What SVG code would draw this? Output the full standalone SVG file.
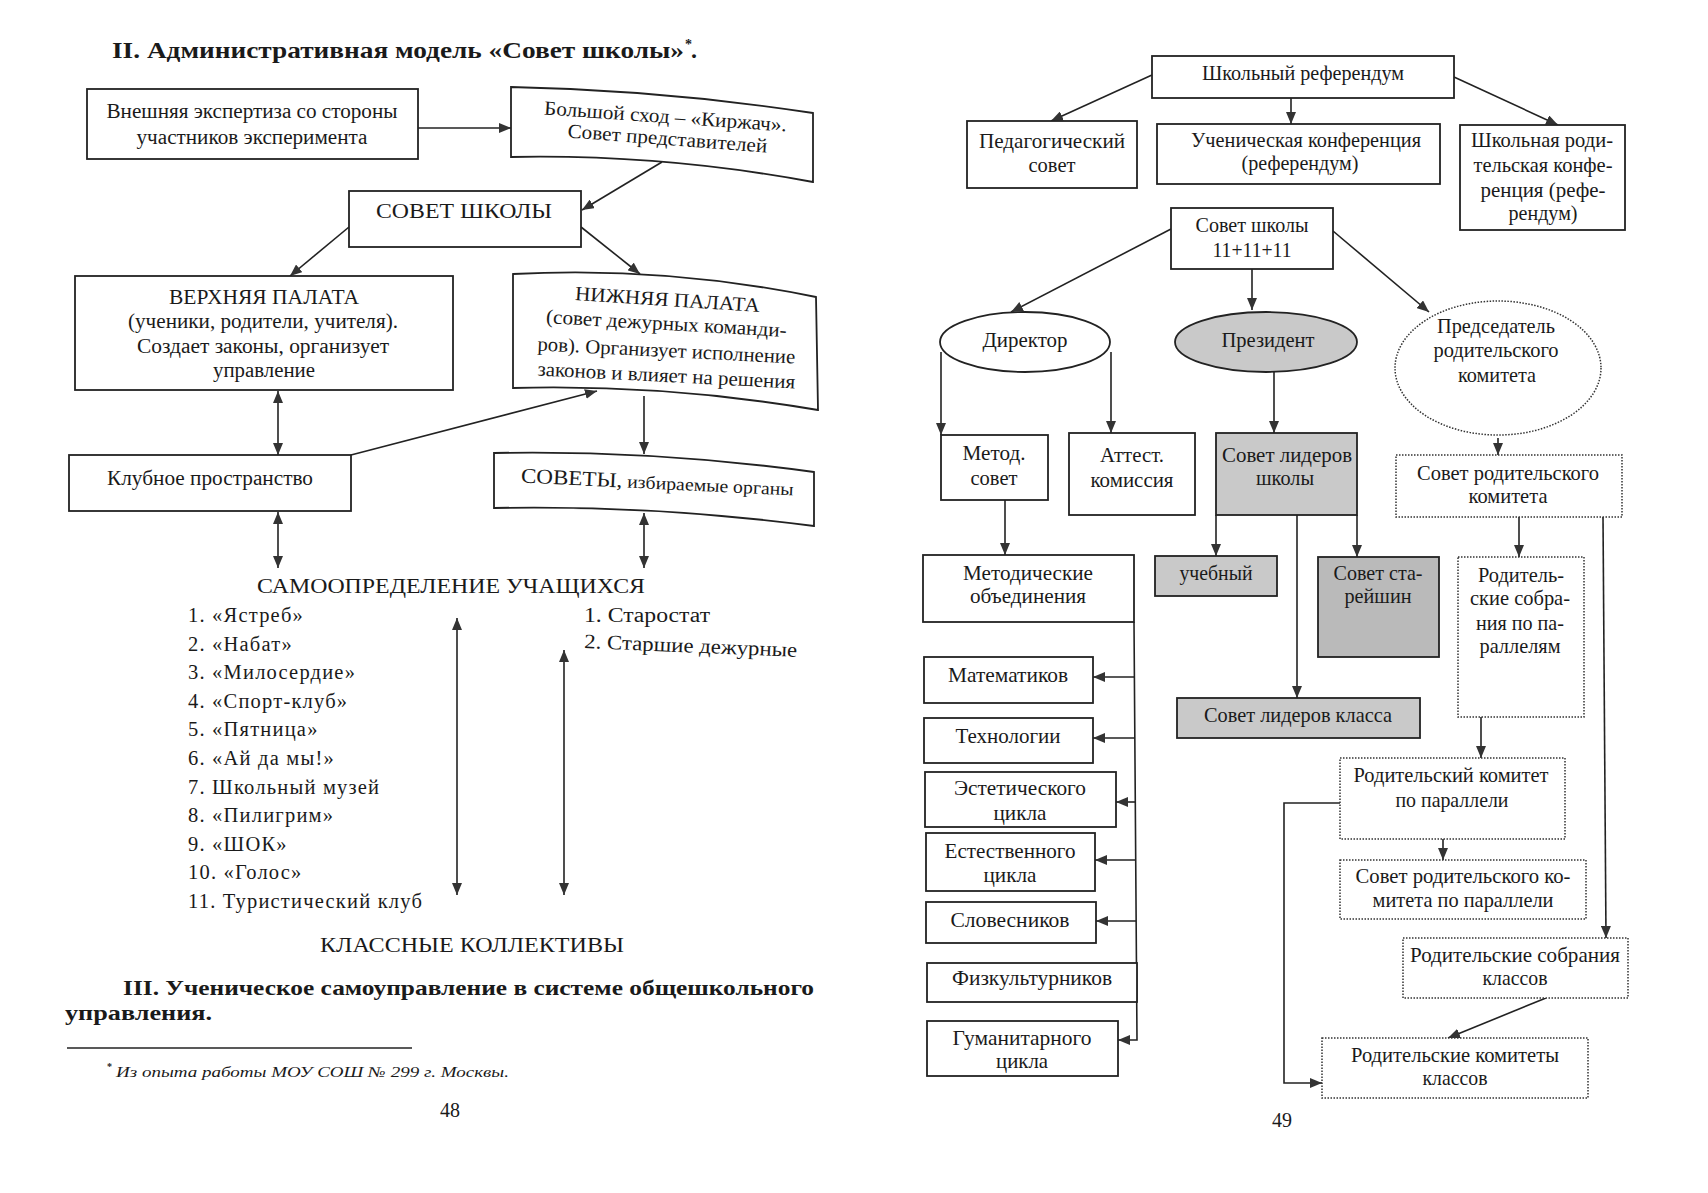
<svg xmlns="http://www.w3.org/2000/svg" width="1708" height="1193" viewBox="0 0 1708 1193">
<defs>
<marker id="ah" viewBox="0 0 12 10" refX="12" refY="5" markerWidth="12" markerHeight="10" markerUnits="userSpaceOnUse" orient="auto-start-reverse"><path d="M0,0 L12,5 L0,10 z" fill="#333"/></marker>
</defs>
<style>
text{font-family:"Liberation Serif","Times New Roman",serif;fill:#1a1a1a}
.t{font-size:20px;text-anchor:middle}
.r{font-size:21px;text-anchor:middle}
.l{font-size:20.5px;letter-spacing:1.2px}
.b{font-weight:bold}
.box{fill:#fff;stroke:#222;stroke-width:1.8}
.gray{fill:#c9c9c9;stroke:#222;stroke-width:1.8}
.dark{fill:#bababa;stroke:#222;stroke-width:1.8}
.dot{fill:#fff;stroke:#333;stroke-width:1.5;stroke-dasharray:1.5 1.5}
.c{fill:none;stroke:#222;stroke-width:1.6}
.a{marker-end:url(#ah)}
.d{marker-start:url(#ah);marker-end:url(#ah)}
</style>
<rect x="0" y="0" width="1708" height="1193" fill="#fff"/>

<!-- LEFT PAGE -->
<g id="title">
<text class="b" x="112" y="58" font-size="24" textLength="572" lengthAdjust="spacingAndGlyphs">II. Административная модель «Совет школы»</text>
<text class="b" x="685" y="49" font-size="14">*</text>
<text class="b" x="691" y="58" font-size="24">.</text>
</g>

<g id="connectors-left">
<line class="c a" x1="418" y1="128" x2="511" y2="128"/>
<line class="c a" x1="662" y1="162" x2="582" y2="210"/>
<line class="c a" x1="349" y1="227" x2="290" y2="276"/>
<line class="c a" x1="581" y1="227" x2="640" y2="274"/>
<line class="c d" x1="278" y1="391" x2="278" y2="455"/>
<line class="c a" x1="351" y1="455" x2="597" y2="391"/>
<line class="c a" x1="644" y1="396" x2="644" y2="454"/>
<line class="c d" x1="278" y1="512" x2="278" y2="568"/>
<line class="c d" x1="644" y1="513" x2="644" y2="568"/>
<line class="c d" x1="457" y1="618" x2="457" y2="895"/>
<line class="c d" x1="564" y1="650" x2="564" y2="895"/>
</g>

<g id="vneshnyaya">
<rect class="box" x="87" y="89" width="331" height="70"/>
<text class="t" x="252" y="118" textLength="291" lengthAdjust="spacingAndGlyphs">Внешняя экспертиза со стороны</text>
<text class="t" x="252" y="144" textLength="231" lengthAdjust="spacingAndGlyphs">участников эксперимента</text>
</g>

<g id="bolshoy">
<path class="box" d="M511,87 Q662,90 813,113 L813,182 Q662,154 511,157 Z"/>
<text class="t" x="665" y="123" transform="rotate(4 665 123)" textLength="243" lengthAdjust="spacingAndGlyphs">Большой сход – «Киржач».</text>
<text class="t" x="667" y="145" transform="rotate(4.3 667 145)" textLength="200" lengthAdjust="spacingAndGlyphs">Совет представителей</text>
</g>

<g id="sovet-shkoly">
<rect class="box" x="349" y="191" width="232" height="56"/>
<text class="t" x="464" y="218" font-size="22" textLength="176" lengthAdjust="spacingAndGlyphs">СОВЕТ ШКОЛЫ</text>
</g>

<g id="verkhnyaya">
<rect class="box" x="75" y="276" width="378" height="114"/>
<text class="t" x="264" y="304" textLength="190" lengthAdjust="spacingAndGlyphs">ВЕРХНЯЯ ПАЛАТА</text>
<text class="t" x="263" y="328" textLength="270" lengthAdjust="spacingAndGlyphs">(ученики, родители, учителя).</text>
<text class="t" x="263" y="353" textLength="252" lengthAdjust="spacingAndGlyphs">Создает законы, организует</text>
<text class="t" x="264" y="377" textLength="102" lengthAdjust="spacingAndGlyphs">управление</text>
</g>

<g id="nizhnyaya">
<path class="box" d="M513,274 Q665,266 816,297 L818,410 Q665,384 513,388 Z"/>
<text class="t" x="667" y="306" transform="rotate(3.7 667 306)" textLength="185" lengthAdjust="spacingAndGlyphs">НИЖНЯЯ ПАЛАТА</text>
<text class="t" x="666" y="330" transform="rotate(3.3 666 330)" textLength="241" lengthAdjust="spacingAndGlyphs">(совет дежурных команди-</text>
<text class="t" x="666" y="357" transform="rotate(2.9 666 357)" textLength="258" lengthAdjust="spacingAndGlyphs">ров). Организует исполнение</text>
<text class="t" x="666" y="382" transform="rotate(2.9 666 382)" textLength="258" lengthAdjust="spacingAndGlyphs">законов и влияет на решения</text>
</g>

<g id="klubnoe">
<rect class="box" x="69" y="455" width="282" height="56"/>
<text class="t" x="210" y="485" textLength="206" lengthAdjust="spacingAndGlyphs">Клубное пространство</text>
</g>

<g id="sovety">
<path class="box" d="M494,453 Q654,450 814,472 L814,526 Q654,505 494,508 Z"/>
<text class="t" x="657" y="489" transform="rotate(2.7 657 489)" textLength="273" lengthAdjust="spacingAndGlyphs"><tspan font-size="21">СОВЕТЫ,</tspan><tspan font-size="18"> избираемые органы</tspan></text>
</g>

<g id="samoopredelenie">
<text x="257" y="593" font-size="21" textLength="388" lengthAdjust="spacingAndGlyphs">САМООПРЕДЕЛЕНИЕ УЧАЩИХСЯ</text>
<text class="l" x="188" y="622">1. «Ястреб»</text>
<text class="l" x="188" y="650.6">2. «Набат»</text>
<text class="l" x="188" y="679.2">3. «Милосердие»</text>
<text class="l" x="188" y="707.8">4. «Спорт-клуб»</text>
<text class="l" x="188" y="736.4">5. «Пятница»</text>
<text class="l" x="188" y="765">6. «Ай да мы!»</text>
<text class="l" x="188" y="793.6">7. Школьный музей</text>
<text class="l" x="188" y="822.2">8. «Пилигрим»</text>
<text class="l" x="188" y="850.8">9. «ШОК»</text>
<text class="l" x="188" y="879.4">10. «Голос»</text>
<text class="l" x="188" y="908">11. Туристический клуб</text>
<text x="584" y="622" font-size="20.5" textLength="126" lengthAdjust="spacingAndGlyphs">1. Старостат</text>
<text x="584" y="648" font-size="20.5" transform="rotate(2.4 584 648)" textLength="213" lengthAdjust="spacingAndGlyphs">2. Старшие дежурные</text>
<text x="320" y="952" font-size="20.5" textLength="304" lengthAdjust="spacingAndGlyphs">КЛАССНЫЕ КОЛЛЕКТИВЫ</text>
</g>

<g id="section3">
<text class="b" x="123" y="995" font-size="21" textLength="691" lengthAdjust="spacingAndGlyphs">III. Ученическое самоуправление в системе общешкольного</text>
<text class="b" x="65" y="1020" font-size="21" textLength="147" lengthAdjust="spacingAndGlyphs">управления.</text>
<line x1="67" y1="1048" x2="412" y2="1048" stroke="#222" stroke-width="1.5"/>
<text x="107" y="1070" font-size="10" font-weight="bold">*</text>
<text x="116" y="1077" font-size="15" font-style="italic" textLength="393" lengthAdjust="spacingAndGlyphs">Из опыта работы МОУ СОШ № 299 г. Москвы.</text>
<text x="440" y="1117" font-size="20">48</text>
</g>

<!-- RIGHT PAGE -->
<g id="connectors-right">
<line class="c a" x1="1152" y1="75" x2="1051" y2="121"/>
<line class="c a" x1="1291" y1="98" x2="1291" y2="124"/>
<line class="c a" x1="1454" y1="77" x2="1558" y2="125"/>
<line class="c a" x1="1171" y1="229" x2="1011" y2="312"/>
<line class="c a" x1="1252" y1="269" x2="1252" y2="310"/>
<line class="c a" x1="1333" y1="231" x2="1429" y2="312"/>
<line class="c a" x1="941" y1="352" x2="941" y2="435"/>
<line class="c a" x1="1111" y1="352" x2="1111" y2="433"/>
<line class="c a" x1="1274" y1="372" x2="1274" y2="433"/>
<line class="c a" x1="1005" y1="500" x2="1005" y2="555"/>
<line class="c a" x1="1216" y1="515" x2="1216" y2="556"/>
<line class="c a" x1="1357" y1="515" x2="1357" y2="557"/>
<line class="c a" x1="1297" y1="515" x2="1297" y2="698"/>
<line class="c a" x1="1498" y1="438" x2="1498" y2="455"/>
<line class="c a" x1="1519" y1="517" x2="1519" y2="557"/>
<line class="c a" x1="1603" y1="517" x2="1606" y2="938"/>
<line class="c a" x1="1481" y1="717" x2="1481" y2="758"/>
<line class="c a" x1="1443" y1="839" x2="1443" y2="860"/>
<line class="c a" x1="1546" y1="998" x2="1448" y2="1038"/>
<polyline class="c a" points="1340,803 1284,803 1284,1083 1322,1083"/>
<polyline class="c a" points="1134,622 1137,1040 1118,1040"/>
<line class="c a" x1="1134" y1="677" x2="1093" y2="677"/>
<line class="c a" x1="1135" y1="738" x2="1093" y2="738"/>
<line class="c a" x1="1136" y1="802" x2="1116" y2="802"/>
<line class="c a" x1="1136" y1="860" x2="1095" y2="860"/>
<line class="c a" x1="1136" y1="921" x2="1096" y2="921"/>
</g>

<g id="referendum">
<rect class="box" x="1152" y="56" width="302" height="42"/>
<text class="r" x="1303" y="80" textLength="202" lengthAdjust="spacingAndGlyphs">Школьный референдум</text>
</g>
<g id="pedsovet">
<rect class="box" x="967" y="121" width="170" height="67"/>
<text class="r" x="1052" y="148" textLength="146" lengthAdjust="spacingAndGlyphs">Педагогический</text>
<text class="r" x="1052" y="172" textLength="47" lengthAdjust="spacingAndGlyphs">совет</text>
</g>
<g id="uchen-konf">
<rect class="box" x="1157" y="124" width="283" height="60"/>
<text class="r" x="1306" y="147" textLength="230" lengthAdjust="spacingAndGlyphs">Ученическая конференция</text>
<text class="r" x="1300" y="170" textLength="117" lengthAdjust="spacingAndGlyphs">(референдум)</text>
</g>
<g id="rodit-konf">
<rect class="box" x="1460" y="125" width="165" height="105"/>
<text class="r" x="1542" y="147" textLength="142" lengthAdjust="spacingAndGlyphs">Школьная роди-</text>
<text class="r" x="1543" y="172" textLength="139" lengthAdjust="spacingAndGlyphs">тельская конфе-</text>
<text class="r" x="1543" y="197" textLength="125" lengthAdjust="spacingAndGlyphs">ренция (рефе-</text>
<text class="r" x="1543" y="220" textLength="69" lengthAdjust="spacingAndGlyphs">рендум)</text>
</g>
<g id="sovet-11">
<rect class="box" x="1171" y="208" width="162" height="61"/>
<text class="r" x="1252" y="232" textLength="113" lengthAdjust="spacingAndGlyphs">Совет школы</text>
<text class="r" x="1252" y="257" textLength="79" lengthAdjust="spacingAndGlyphs">11+11+11</text>
</g>
<g id="direktor">
<ellipse class="box" cx="1025" cy="342" rx="85" ry="30"/>
<text class="r" x="1025" y="347" textLength="85" lengthAdjust="spacingAndGlyphs">Директор</text>
</g>
<g id="prezident">
<ellipse class="gray" cx="1266" cy="342" rx="91" ry="30"/>
<text class="r" x="1268" y="347" textLength="93" lengthAdjust="spacingAndGlyphs">Президент</text>
</g>
<g id="predsedatel">
<ellipse class="dot" cx="1498" cy="368" rx="103" ry="67"/>
<text class="r" x="1496" y="333" textLength="118" lengthAdjust="spacingAndGlyphs">Председатель</text>
<text class="r" x="1496" y="357" textLength="125" lengthAdjust="spacingAndGlyphs">родительского</text>
<text class="r" x="1497" y="382" textLength="78" lengthAdjust="spacingAndGlyphs">комитета</text>
</g>
<g id="metod-sovet">
<rect class="box" x="941" y="435" width="107" height="65"/>
<text class="r" x="994" y="460" textLength="63" lengthAdjust="spacingAndGlyphs">Метод.</text>
<text class="r" x="994" y="485" textLength="47" lengthAdjust="spacingAndGlyphs">совет</text>
</g>
<g id="attest">
<rect class="box" x="1069" y="433" width="126" height="82"/>
<text class="r" x="1132" y="462" textLength="64" lengthAdjust="spacingAndGlyphs">Аттест.</text>
<text class="r" x="1132" y="487" textLength="83" lengthAdjust="spacingAndGlyphs">комиссия</text>
</g>
<g id="sovet-liderov">
<rect class="gray" x="1216" y="433" width="141" height="82"/>
<text class="r" x="1287" y="462" textLength="130" lengthAdjust="spacingAndGlyphs">Совет лидеров</text>
<text class="r" x="1285" y="485" textLength="58" lengthAdjust="spacingAndGlyphs">школы</text>
</g>
<g id="uchebny">
<rect class="gray" x="1155" y="556" width="122" height="40"/>
<text class="r" x="1216" y="580" textLength="73" lengthAdjust="spacingAndGlyphs">учебный</text>
</g>
<g id="stareyshin">
<rect class="dark" x="1318" y="557" width="121" height="100"/>
<text class="r" x="1378" y="580" textLength="89" lengthAdjust="spacingAndGlyphs">Совет ста-</text>
<text class="r" x="1378" y="603" textLength="67" lengthAdjust="spacingAndGlyphs">рейшин</text>
</g>
<g id="liderov-klassa">
<rect class="gray" x="1177" y="698" width="243" height="40"/>
<text class="r" x="1298" y="722" textLength="188" lengthAdjust="spacingAndGlyphs">Совет лидеров класса</text>
</g>
<g id="sovet-rod-kom">
<rect class="dot" x="1396" y="455" width="226" height="62"/>
<text class="r" x="1508" y="480" textLength="182" lengthAdjust="spacingAndGlyphs">Совет родительского</text>
<text class="r" x="1508" y="503" textLength="79" lengthAdjust="spacingAndGlyphs">комитета</text>
</g>
<g id="rod-sobr-par">
<rect class="dot" x="1458" y="557" width="126" height="160"/>
<text class="r" x="1521" y="582" textLength="86" lengthAdjust="spacingAndGlyphs">Родитель-</text>
<text class="r" x="1520" y="605" textLength="100" lengthAdjust="spacingAndGlyphs">ские собра-</text>
<text class="r" x="1520" y="630" textLength="88" lengthAdjust="spacingAndGlyphs">ния по па-</text>
<text class="r" x="1520" y="653" textLength="81" lengthAdjust="spacingAndGlyphs">раллелям</text>
</g>
<g id="rod-kom-par">
<rect class="dot" x="1340" y="758" width="225" height="81"/>
<text class="r" x="1451" y="782" textLength="195" lengthAdjust="spacingAndGlyphs">Родительский комитет</text>
<text class="r" x="1452" y="807" textLength="113" lengthAdjust="spacingAndGlyphs">по параллели</text>
</g>
<g id="sovet-rod-kom-par">
<rect class="dot" x="1340" y="860" width="246" height="59"/>
<text class="r" x="1463" y="883" textLength="215" lengthAdjust="spacingAndGlyphs">Совет родительского ко-</text>
<text class="r" x="1463" y="907" textLength="181" lengthAdjust="spacingAndGlyphs">митета по параллели</text>
</g>
<g id="rod-sobr-klassov">
<rect class="dot" x="1403" y="938" width="225" height="60"/>
<text class="r" x="1515" y="962" textLength="210" lengthAdjust="spacingAndGlyphs">Родительские  собрания</text>
<text class="r" x="1515" y="985" textLength="65" lengthAdjust="spacingAndGlyphs">классов</text>
</g>
<g id="rod-kom-klassov">
<rect class="dot" x="1322" y="1038" width="266" height="60"/>
<text class="r" x="1455" y="1062" textLength="208" lengthAdjust="spacingAndGlyphs">Родительские комитеты</text>
<text class="r" x="1455" y="1085" textLength="65" lengthAdjust="spacingAndGlyphs">классов</text>
</g>
<g id="metod-obed">
<rect class="box" x="923" y="555" width="211" height="67"/>
<text class="r" x="1028" y="580" textLength="130" lengthAdjust="spacingAndGlyphs">Методические</text>
<text class="r" x="1028" y="603" textLength="116" lengthAdjust="spacingAndGlyphs">объединения</text>
</g>
<g id="matematikov">
<rect class="box" x="924" y="657" width="169" height="46"/>
<text class="r" x="1008" y="682" textLength="120" lengthAdjust="spacingAndGlyphs">Математиков</text>
</g>
<g id="tekhnologii">
<rect class="box" x="924" y="718" width="169" height="45"/>
<text class="r" x="1008" y="743" textLength="105" lengthAdjust="spacingAndGlyphs">Технологии</text>
</g>
<g id="estetich">
<rect class="box" x="925" y="772" width="191" height="55"/>
<text class="r" x="1020" y="795" textLength="132" lengthAdjust="spacingAndGlyphs">Эстетического</text>
<text class="r" x="1020" y="820" textLength="53" lengthAdjust="spacingAndGlyphs">цикла</text>
</g>
<g id="estestv">
<rect class="box" x="926" y="833" width="169" height="58"/>
<text class="r" x="1010" y="858" textLength="131" lengthAdjust="spacingAndGlyphs">Естественного</text>
<text class="r" x="1010" y="882" textLength="53" lengthAdjust="spacingAndGlyphs">цикла</text>
</g>
<g id="slovesnikov">
<rect class="box" x="926" y="902" width="170" height="41"/>
<text class="r" x="1010" y="927" textLength="119" lengthAdjust="spacingAndGlyphs">Словесников</text>
</g>
<g id="fizkult">
<rect class="box" x="927" y="963" width="210" height="39"/>
<text class="r" x="1032" y="985" textLength="160" lengthAdjust="spacingAndGlyphs">Физкультурников</text>
</g>
<g id="gumanit">
<rect class="box" x="927" y="1021" width="191" height="55"/>
<text class="r" x="1022" y="1045" textLength="139" lengthAdjust="spacingAndGlyphs">Гуманитарного</text>
<text class="r" x="1022" y="1068" textLength="52" lengthAdjust="spacingAndGlyphs">цикла</text>
</g>
<text x="1272" y="1127" font-size="20">49</text>
</svg>
